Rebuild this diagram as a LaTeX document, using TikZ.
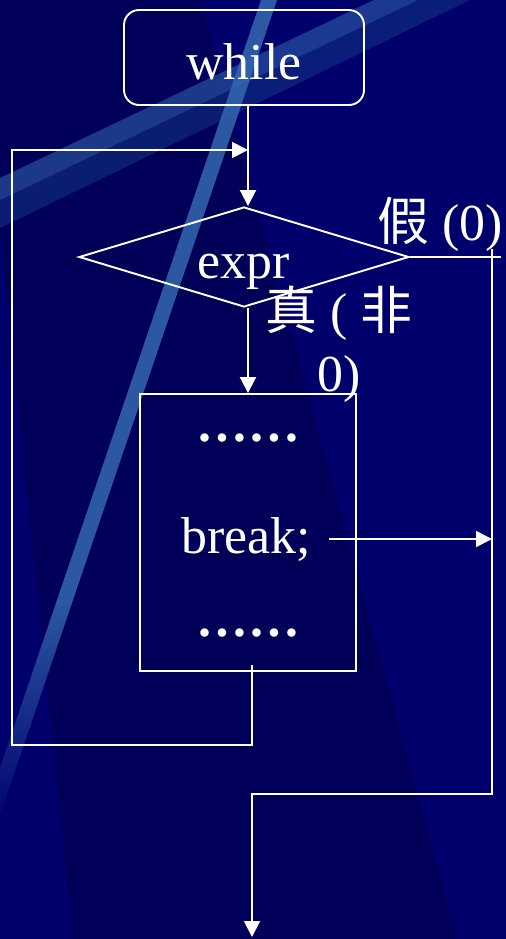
\documentclass[tikz,border=0pt]{standalone}
\usepackage{fontspec}
\setmainfont{Liberation Serif}
\newfontfamily\cjk{Noto Sans CJK SC}
\usetikzlibrary{arrows.meta,calc,shapes.geometric}
\definecolor{BG}{HTML}{00006C}
\definecolor{BGD}{HTML}{000058}
\definecolor{STREAK}{HTML}{3468B0}
\definecolor{BAND}{HTML}{143684}
\definecolor{INK}{HTML}{FFFFFF}

\begin{document}
\begin{tikzpicture}[x=0.02cm,y=-0.02cm]
\tikzset{wire/.style={INK,line width=1.1pt},flow/.style={wire,-{Triangle[length=0.32cm,width=0.32cm]}},
 txt/.style={text=INK,font=\fontsize{29.5}{35.4}\selectfont,inner sep=0pt},
 startbox/.style={txt,draw=INK,line width=1.1pt,rounded corners=0.3cm,minimum width=4.8cm,minimum height=1.9cm,text height=0.9cm,text depth=0pt},
 decision/.style={txt,diamond,draw=INK,line width=1.1pt,aspect=3.3,minimum width=6.6cm,minimum height=2cm,text height=0.88cm,text depth=0pt},
 bodybox/.style={draw=INK,line width=1.1pt,minimum width=4.32cm,minimum height=5.54cm,inner sep=0pt}}
% background
\useasboundingbox (0,0) rectangle (506,939);
\fill[BG] (0,0) rectangle (506,939);
\fill[BGD] (0,0) -- (200,0) -- (457,939) -- (73,939) -- (0,230) -- cycle;
\begin{scope}
\clip (0,0) rectangle (506,939);
\fill[BAND,opacity=0.55] (0,200) -- (0,228) -- (470,0) -- (418,0) -- cycle;
\fill[STREAK,opacity=0.55] (0,178) -- (0,200) -- (418,0) -- (374,0) -- cycle;
\fill[STREAK,opacity=0.85] (261,0) -- (277,0) -- (73,600) -- (57,600) -- cycle;
\shade[top color=STREAK,bottom color=BG,opacity=0.85] (57,600) -- (73,600) -- (-5,830) -- (-21,830) -- cycle;
\end{scope}
% shapes and texts
\node[startbox] (while) at (244,57.5) {while};
\node[decision] (expr) at (244,257) {expr};
\node[bodybox] (body) at (248,532.5) {};
\node[txt,anchor=base] (dotsA) at (248,441) {\textbf{……}};
\node[txt,anchor=base] (brk) at (246,553) {break;};
\node[txt,anchor=base] (dotsB) at (248,636) {\textbf{……}};
\node[txt,anchor=base] (nolbl) at (440,240) {{\cjk 假} (0)};
\node[txt,align=center] (yeslbl) at (339,344) {{\cjk 真} ( {\cjk 非}\\0)};
% connectors
\coordinate (join) at (248,150);
\coordinate (backL) at (12,745);
\coordinate (bodyout) at (252,665);
\coordinate (railtop) at (492,249);
\coordinate (railbot) at (492,794);
\coordinate (exit) at (252,937);
\draw[flow] (while.south -| body.north) -- (expr.north -| body.north);
\draw[flow] (expr.south -| body.north) -- (body.north);
\draw[flow] (bodyout) |- (backL) |- (join);
\draw[wire] (expr.east) -- ++(91,0);
\draw[flow] (railtop) |- (exit |- railbot) -- (exit);
\draw[flow] ($(brk.east)+(18,0)$) -- (brk.east -| railtop);
\end{tikzpicture}
\end{document}
